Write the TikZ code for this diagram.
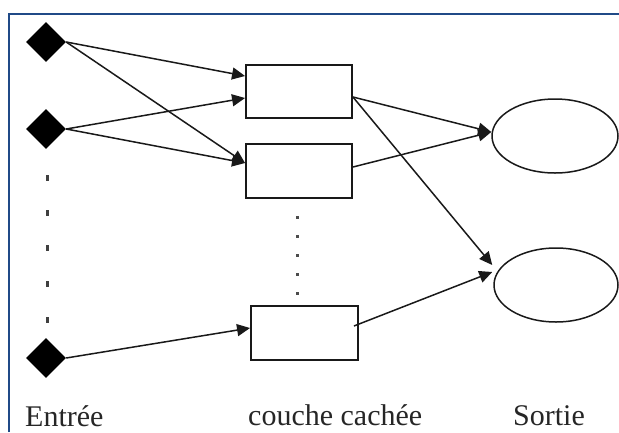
\documentclass[tikz,border=0pt]{standalone}
\usepackage{fontspec}
\setmainfont{Liberation Serif}
\usetikzlibrary{shapes.geometric,arrows.meta}
\definecolor{framec}{RGB}{32,74,135}
\definecolor{inkc}{RGB}{25,25,25}
\tikzset{
  inputnode/.style={diamond,fill=black,inner sep=0pt,minimum width=40pt,minimum height=40pt},
  hiddenbox/.style={rectangle,draw=inkc,line width=1.9pt,fill=white,inner sep=0pt},
  outnode/.style={ellipse,draw=inkc,line width=1.5pt,inner sep=0pt},
  link/.style={draw=inkc,line width=1.5pt,-{Triangle[length=13pt,width=12pt]}},
  caption/.style={inner sep=0pt,anchor=base west,font=\fontsize{30pt}{32pt}\selectfont,text=black!85},
}
\begin{document}
\begin{tikzpicture}[x=1pt,y=-1pt]
\useasboundingbox (0,0) rectangle (619,432);
% outer frame (only top and left edges are visible)
\draw[framec,line width=2pt] (9,432) -- (9,14) -- (619,14);

% input units
\node[inputnode] (d1) at (46,42) {};
\node[inputnode] (d2) at (46,129) {};
\node[inputnode] (d3) at (46,358) {};
\foreach \y in {178,213,248,284,320}
  \fill[black!75] (45.5,\y-3) rectangle (48.5,\y+3);

% hidden layer
\node[hiddenbox,minimum width=106pt,minimum height=53pt] (r1) at (299,91.5) {};
\node[hiddenbox,minimum width=106pt,minimum height=54pt] (r2) at (299,171) {};
\node[hiddenbox,minimum width=107pt,minimum height=54pt] (r3) at (304.5,333) {};
\foreach \y in {217,236,255,274,293}
  \fill[black!70] (295.5,\y-1.5) rectangle (298.5,\y+1.5);

% output units
\node[outnode,minimum width=126pt,minimum height=74pt] (e1) at (555,136) {};
\node[outnode,minimum width=124pt,minimum height=74pt] (e2) at (556,285) {};

% input -> hidden
\draw[link] (d1.east) -- ([yshift=15.5pt]r1.west);
\draw[link] (d1.east) -- ([yshift=8pt]r2.west);
\draw[link] (d2.east) -- ([yshift=-6.5pt]r1.west);
\draw[link] (d2.east) -- ([yshift=8pt]r2.west);
\draw[link] (d3.east) -- ([yshift=5pt]r3.west);

% hidden -> output
\draw[link] ([yshift=-5.5pt]r1.east) -- ([yshift=4pt]e1.west);
\draw[link] ([yshift=-5.5pt]r1.east) -- ([xshift=-1pt,yshift=20pt]e2.west);
\draw[link] ([yshift=4pt]r2.east) -- ([yshift=4pt]e1.west);
\draw[link] ([xshift=-5pt,yshift=7pt]r3.east) -- ([xshift=-1pt,yshift=13pt]e2.west);

% layer captions
\node[caption] (lin) at (25,426) {Entrée};
\node[caption] (lhid) at (248,425) {couche cachée};
\node[caption] (lout) at (513,425) {Sortie};
\end{tikzpicture}
\end{document}
